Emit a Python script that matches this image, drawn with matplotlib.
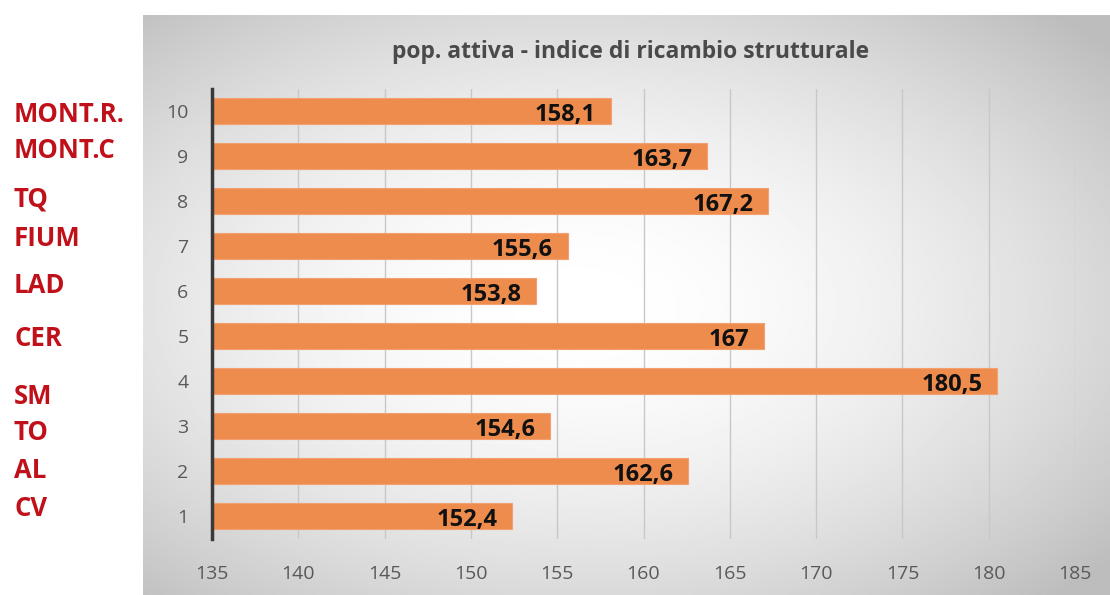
import numpy as np
import matplotlib.pyplot as plt

# data
categories = [1, 2, 3, 4, 5, 6, 7, 8, 9, 10]
values = [152.4, 162.6, 154.6, 180.5, 167, 153.8, 155.6, 167.2, 163.7, 158.1]
value_labels = ['152,4', '162,6', '154,6', '180,5', '167', '153,8', '155,6', '167,2', '163,7', '158,1']
places = ['MONT.R.', 'MONT.C', 'TQ', 'FIUM', 'LAD', 'CER', 'SM', 'TO', 'AL', 'CV']
title = 'pop. attiva - indice di ricambio strutturale'

W, H = 1110, 595
fig = plt.figure(figsize=(W / 100, H / 100), dpi=100)
fig.patch.set_facecolor('white')

# grey panel with a soft radial gradient
bg = fig.add_axes([143 / W, 0, 1 - 143 / W, 1 - 15 / H])
bg.set_axis_off()
gx, gy = np.meshgrid(np.linspace(-1, 1, 400), np.linspace(-1, 1, 250))
r = np.sqrt((gx + 0.1) ** 2 + (gy * 1.05) ** 2)
shade = 1.0 - 0.26 * np.clip(r / 1.45, 0, 1) ** 1.8
bg.imshow(shade, cmap='gray', vmin=0, vmax=1, aspect='auto', extent=[0, 1, 0, 1])

ax = fig.add_axes([212 / W, 1 - 538.5 / H, (1075 - 212) / W, 450 / H])
ax.patch.set_alpha(0)
ax.barh(categories, [v - 135 for v in values], left=135, height=0.58,
        color='#EE8C4E', edgecolor='#F2A070', linewidth=0.8, zorder=3)
for c, v, lab in zip(categories, values, value_labels):
    ax.text(v - 0.85, c - 0.08, lab, ha='right', va='center', fontsize=17,
            fontweight='bold', color='#111111', family='Open Sans', zorder=4)

ax.set_xlim(135, 185)
ax.set_ylim(0.5, 10.5)
ax.set_xticks(range(135, 186, 5))
ax.set_yticks(categories)
ax.grid(axis='x', color='#C8C8C8', linewidth=1, zorder=0)
for s in ['top', 'right', 'bottom']:
    ax.spines[s].set_visible(False)
ax.spines['left'].set_color('#3A3A3A')
ax.spines['left'].set_linewidth(2.5)
ax.spines['left'].set_zorder(5)
ax.tick_params(length=0, labelsize=14, labelcolor='#595959')
ax.tick_params(axis='x', pad=19)
ax.tick_params(axis='y', pad=17)
for t in ax.get_xticklabels() + ax.get_yticklabels():
    t.set_family('Open Sans')

fig.text(631 / W, 1 - 52 / H, title, ha='center', va='center', fontsize=16.5,
         fontweight='bold', color='#4A4A4A', family='Open Sans')

# municipality labels at the left, placed as in the original slide
label_y = [114, 150, 199, 238, 285, 339, 396, 433, 471, 509]
for name, py in zip(places, label_y):
    fig.text(14 / W, 1 - py / H, name, ha='left', va='center', fontsize=18.5,
             fontweight='bold', color='#C0101A', family='Open Sans')

fig.savefig('out.png', dpi=100)
